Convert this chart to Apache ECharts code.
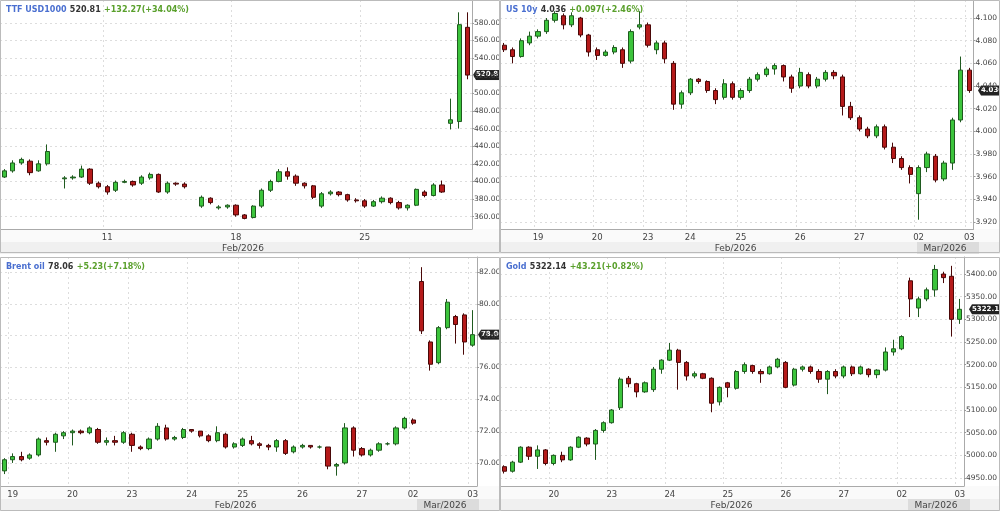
<!DOCTYPE html>
<html><head><meta charset="utf-8">
<script src="https://cdn.jsdelivr.net/npm/echarts@6/dist/echarts.min.js"></script>
<style>html,body{margin:0;padding:0;background:#fff}#c{width:1000px;height:511px}</style>
</head><body><div id="c"></div>
<script>
// [open, close, low, high]
const ttfCandles = [[405,412,404,414],[412,421,410,424],[421,425,419,427],[423,410,407,425],[412,420,411,424],[420,434,418,442],'-',
[403,404,392,406],[404,405,402,407],[405,414,404,418],[414,398,396,415],[398,394,392,400],[394,388,385,396],[390,399,388,401],
[399,400,398,402],[400,396,394,401],[398,405,396,407],[404,408,402,410],[408,388,387,409],[388,398,386,400],[398,397,395,399],
[397,394,392,399],'-',[372,382,370,384],[381,376,374,382],[370,371,368,373],[371,373,369,374],[373,362,360,374],[362,358,357,363],
[359,372,358,373],[372,390,370,392],[390,400,388,402],[400,411,399,414],[411,406,402,416],[406,398,395,408],[398,395,392,399],
[395,382,380,396],[372,386,370,388],[386,388,384,390],[388,385,383,389],[385,379,377,386],[379,378,376,381],[378,372,370,380],
[372,377,371,379],[377,381,375,383],[381,376,374,382],[376,370,368,378],[370,373,367,374],[373,391,372,392],[388,384,382,390],
[384,396,383,398],[396,388,387,401],[466,470,459,494],[468,578,460,592],[575,520.81,516,592]];
const ttfLabelSlots = [12, 27, 42];
const ttfLabelText = ['11', '18', '25'];

const usCandles = [[4.076,4.072,4.070,4.078],[4.072,4.066,4.060,4.074],[4.066,4.080,4.065,4.082],[4.078,4.084,4.076,4.088],
[4.084,4.088,4.082,4.090],[4.088,4.098,4.086,4.100],[4.098,4.104,4.096,4.106],[4.102,4.094,4.090,4.104],[4.094,4.102,4.092,4.105],
[4.100,4.085,4.083,4.101],[4.085,4.070,4.066,4.086],[4.072,4.067,4.063,4.074],[4.067,4.070,4.066,4.072],[4.070,4.074,4.068,4.076],
[4.072,4.060,4.056,4.074],[4.062,4.088,4.060,4.090],[4.092,4.094,4.090,4.106],[4.094,4.076,4.074,4.096],[4.072,4.078,4.068,4.080],
[4.078,4.064,4.060,4.080],[4.060,4.024,4.019,4.062],[4.024,4.034,4.020,4.036],[4.034,4.046,4.032,4.047],[4.046,4.044,4.042,4.047],
[4.044,4.036,4.034,4.045],[4.036,4.028,4.024,4.038],[4.030,4.042,4.028,4.046],[4.042,4.030,4.028,4.044],[4.030,4.036,4.028,4.038],
[4.036,4.046,4.034,4.048],[4.046,4.050,4.044,4.052],[4.050,4.055,4.048,4.057],[4.055,4.058,4.050,4.060],[4.058,4.048,4.044,4.059],
[4.048,4.038,4.034,4.050],[4.040,4.052,4.038,4.056],[4.050,4.040,4.038,4.052],[4.040,4.046,4.038,4.048],[4.046,4.052,4.044,4.054],
[4.052,4.049,4.046,4.054],[4.048,4.022,4.014,4.050],[4.022,4.012,4.010,4.026],[4.012,4.002,4.000,4.014],[4.002,3.996,3.994,4.004],
[3.996,4.004,3.994,4.006],[4.004,3.986,3.984,4.006],[3.986,3.976,3.972,3.990],[3.976,3.968,3.966,3.978],[3.968,3.962,3.954,3.970],
[3.945,3.968,3.922,3.970],[3.968,3.980,3.964,3.982],[3.978,3.957,3.955,3.980],[3.958,3.972,3.956,3.974],[3.972,4.010,3.966,4.012],
[4.010,4.054,4.008,4.066],[4.054,4.036,4.034,4.056]];
const usLabelSlots = [4, 11, 17, 22, 28, 35, 42, 49, 55];
const usLabelText = ['19', '20', '23', '24', '25', '26', '27', '02', '03'];

const brentCandles = [[69.5,70.2,69.3,70.3],[70.2,70.4,70.0,70.6],[70.4,70.2,70.1,70.7],[70.3,70.5,70.2,70.6],[70.5,71.5,70.4,71.6],
[71.4,71.3,71.1,71.6],[71.3,71.8,70.7,71.9],[71.7,71.9,71.5,72.0],[71.9,72.0,71.1,72.1],[72.0,71.9,71.8,72.1],[71.9,72.2,71.8,72.3],
[72.1,71.3,71.2,72.2],[71.3,71.4,71.1,71.6],[71.4,71.3,71.1,71.7],[71.3,71.9,71.2,72.0],[71.8,71.1,70.7,71.9],[71.0,70.9,70.8,71.1],
[70.9,71.5,70.8,71.6],[71.5,72.3,71.4,72.5],[72.2,71.5,71.4,72.4],[71.5,71.6,71.4,71.7],[71.6,72.1,71.5,72.2],[72.1,72.0,71.9,72.1],
[72.0,71.7,71.6,72.0],[71.7,71.4,71.3,71.8],[71.4,71.9,71.3,72.3],[71.8,71.0,70.9,71.9],[71.0,71.2,70.9,71.3],[71.1,71.5,71.0,71.6],
[71.4,71.2,71.1,71.7],[71.2,71.1,70.9,71.3],[71.1,71.0,70.8,71.2],[71.0,71.4,70.7,71.5],[71.4,70.6,70.5,71.5],[70.7,71.0,70.6,71.1],
[71.0,71.1,70.9,71.2],[71.1,71.0,70.9,71.1],[71.0,71.0,70.9,71.1],[71.0,69.8,69.6,71.0],[69.8,69.9,69.2,70.0],[70.0,72.2,69.9,72.5],
[72.2,70.8,70.4,72.3],[70.9,70.5,70.4,71.0],[70.5,70.8,70.4,70.9],[70.8,71.2,70.7,71.3],[71.2,71.2,71.1,71.3],[71.2,72.2,71.1,72.3],
[72.2,72.8,72.1,72.9],[72.7,72.5,72.4,72.8],[81.4,78.3,78.1,82.3],[77.6,76.2,75.8,77.7],[76.3,78.5,76.2,78.6],[78.5,80.1,78.4,80.3],
[79.2,78.7,77.5,79.3],[79.3,77.6,76.8,79.4],[77.4,78.06,77.3,79.6]];
const brentLabelSlots = [1, 8, 15, 22, 28, 35, 42, 48, 55];
const brentLabelText = ['19', '20', '23', '24', '25', '26', '27', '02', '03'];

const goldCandles = [[4975,4965,4960,4978],[4965,4985,4962,4988],[4985,5018,4983,5020],[5018,4998,4990,5020],[4998,5012,4970,5022],
[5012,4982,4978,5014],[4982,5000,4978,5002],[5000,4990,4985,5008],[4990,5018,4988,5020],[5018,5040,5016,5042],[5038,5025,5020,5040],
[5025,5055,4990,5058],[5055,5072,5050,5075],[5072,5100,5070,5102],[5105,5168,5100,5172],[5170,5158,5150,5175],[5158,5140,5128,5160],
[5140,5160,5138,5163],[5145,5190,5140,5195],[5190,5210,5180,5212],[5210,5232,5208,5248],[5232,5205,5145,5235],[5205,5175,5165,5208],
[5175,5180,5170,5185],[5180,5170,5168,5182],[5170,5115,5095,5172],[5118,5150,5110,5152],[5160,5150,5128,5162],[5148,5185,5145,5188],
[5185,5200,5180,5205],[5198,5185,5180,5200],[5185,5180,5160,5190],[5180,5195,5178,5198],[5195,5212,5192,5215],[5205,5150,5148,5208],
[5155,5190,5152,5193],[5190,5195,5185,5198],[5195,5185,5180,5198],[5185,5168,5160,5190],[5168,5185,5135,5188],[5185,5175,5170,5190],
[5175,5195,5170,5198],[5195,5180,5175,5198],[5180,5195,5178,5198],[5190,5178,5172,5192],[5178,5188,5170,5190],[5188,5228,5185,5238],
[5228,5235,5220,5255],[5235,5262,5232,5265],[5385,5345,5305,5392],[5325,5345,5305,5350],[5345,5365,5340,5370],[5365,5410,5350,5420],
[5400,5392,5380,5405],[5395,5300,5262,5418],[5300,5322.14,5290,5345]];
const goldLabelSlots = [6, 13, 20, 27, 34, 41, 48, 55];
const goldLabelText = ['20', '23', '24', '25', '26', '27', '02', '03'];

const ttfTicks = [360,380,400,420,440,460,480,500,520,540,560,580];
const usTicks = [3.92,3.94,3.96,3.98,4.00,4.02,4.04,4.06,4.08,4.10];
const brentTicks = [70,72,74,76,78,80,82];
const goldTicks = [4950,5000,5050,5100,5150,5200,5250,5300,5350,5400];

const panels = [
  {name:'TTF USD1000', last:'520.81', chg:'+132.27(+34.04%)', data:ttfCandles, slots:ttfLabelSlots, text:ttfLabelText, ticks:ttfTicks, dec:2,
   left:0, top:0, width:472, height:229, min:346, max:606, panelW:500, mar:false},
  {name:'US 10y', last:'4.036', chg:'+0.097(+2.46%)', data:usCandles, slots:usLabelSlots, text:usLabelText, ticks:usTicks, dec:3,
   left:500, top:0, width:477, height:229, min:3.9138, max:4.1159, panelW:500, mar:true},
  {name:'Brent oil', last:'78.06', chg:'+5.23(+7.18%)', data:brentCandles, slots:brentLabelSlots, text:brentLabelText, ticks:brentTicks, dec:2,
   left:0, top:257, width:477, height:229, min:68.55, max:82.94, panelW:500, mar:true},
  {name:'Gold', last:'5322.14', chg:'+43.21(+0.82%)', data:goldCandles, slots:goldLabelSlots, text:goldLabelText, ticks:goldTicks, dec:2,
   left:500, top:257, width:468, height:229, min:4932.4, max:5437.5, panelW:500, mar:true}
];

const grids=[], xAxes=[], yAxes=[], series=[], graphics=[];
panels.forEach((p,k)=>{
  grids.push({left:p.left, top:p.top, width:p.width, height:p.height});
  const cats = p.data.map((d,i)=>String(i));
  const show = i => p.slots.indexOf(i) >= 0;
  xAxes.push({type:'category', gridIndex:k, data:cats, boundaryGap:true,
    axisLine:{show:true, lineStyle:{color:'#aaa'}}, axisTick:{show:false},
    axisLabel:{interval:(i)=>show(i), formatter:(v,i)=>p.text[p.slots.indexOf(i)]||'', color:'#444', fontSize:8.5, fontFamily:'DejaVu Sans', margin:4},
    splitLine:{show:true, interval:(i)=>show(i), lineStyle:{color:'#ddd', type:[2,3]}}});
  yAxes.push({type:'value', gridIndex:k, position:'right', min:p.min, max:p.max, scale:true,
    axisLine:{show:true, lineStyle:{color:'#aaa'}}, axisTick:{show:true, customValues:p.ticks, length:2, lineStyle:{color:'#999'}},
    axisLabel:{customValues:p.ticks, formatter:v=>v.toFixed(p.dec), color:'#444', fontSize:7.5, fontFamily:'DejaVu Sans', margin:2},
    splitLine:{show:true, lineStyle:{color:'#ddd', type:[2,3]}}});
  series.push({type:'candlestick', xAxisIndex:k, yAxisIndex:k, data:p.data, barWidth:'55%',
    itemStyle:{color:'#3cc43c', color0:'#b51a1a', borderColor:'#1f5a1f', borderColor0:'#4a0808', borderWidth:1}});
  const bandTop = p.top + p.height;
  graphics.push({type:'rect', shape:{x:p.left, y:bandTop+13, width:p.panelW, height:12}, style:{fill:'#f0f0f0'}, silent:true, z:-1});
  graphics.push({type:'rect', shape:{x:p.left, y:bandTop, width:p.panelW, height:13}, style:{fill:'#fafafa'}, silent:true, z:-2});
  if(p.mar) graphics.push({type:'rect', shape:{x:p.left+p.width-60, y:bandTop+13, width:62, height:12}, style:{fill:'#dcdcdc'}, silent:true, z:-1});
  graphics.push({type:'text', x:p.left + (p.mar ? p.width*0.45 : 222), y:bandTop+15, style:{text:'Feb/2026', fill:'#444', font:'9px DejaVu Sans'}, z:10});
  if(p.mar) graphics.push({type:'text', x:p.left+p.width-32, y:bandTop+15, style:{text:'Mar/2026', fill:'#444', font:'9px DejaVu Sans', align:'center'}, z:10});
  graphics.push({type:'rect', shape:{x:p.left+0.5, y:p.top+0.5, width:p.panelW-1, height:(k<2?252:253)}, style:{fill:'none', stroke:'#bbb', lineWidth:1}, silent:true, z:20});
  graphics.push({type:'text', x:p.left+6, y:p.top+4, z:10, style:{
    text:'{a|'+p.name+'} {b|'+p.last+'} {c|'+p.chg+'}',
    rich:{a:{fill:'#4a6fd0', font:'bold 8px DejaVu Sans'}, b:{fill:'#333', font:'bold 8px DejaVu Sans'}, c:{fill:'#5aa02c', font:'bold 8px DejaVu Sans'}}}});
});

const chart = echarts.init(document.getElementById('c'));
chart.setOption({animation:false, grid:grids, xAxis:xAxes, yAxis:yAxes, series:series, graphic:graphics});
// last-price tags on the right axis, positioned through the library's own scales
const tags = panels.map((p,k)=>{
  const y = chart.convertToPixel({yAxisIndex:k}, Number(p.last));
  return {type:'group', x:p.left+p.width+1, y:y, z:30, children:[
    {type:'polygon', shape:{points:[[0,0],[3,-5],[3,5]]}, style:{fill:'#222'}},
    {type:'rect', shape:{x:3, y:-5, width:p.panelW-p.width-4, height:10}, style:{fill:'#222'}},
    {type:'text', x:3, y:-4, style:{text:p.last, fill:'#fff', font:'bold 7px DejaVu Sans'}}]};
});
chart.setOption({graphic:graphics.concat(tags)});
</script></body></html>
